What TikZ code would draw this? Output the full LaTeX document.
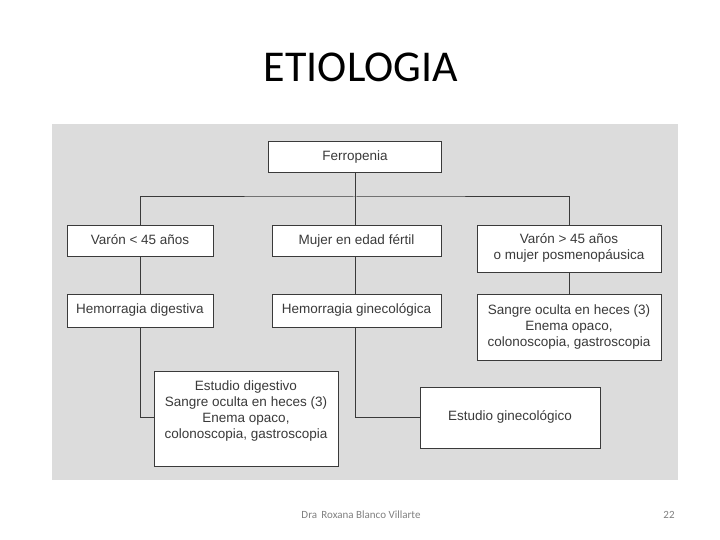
\documentclass[tikz,border=0pt]{standalone}
\usepackage{fontspec}
\setmainfont{Carlito}
\newfontfamily\boxfont{Liberation Sans}
\definecolor{panel}{HTML}{DCDCDC}
\definecolor{ink}{HTML}{3A3A3A}
\begin{document}
\begin{tikzpicture}[x=1pt,y=-1pt,
  bx/.style={draw=ink,fill=white,line width=1pt,text=ink,font=\boxfont\fontsize{13.5}{16}\selectfont,align=center,inner sep=0pt,text height=9.7pt,text depth=2.8pt},
  tx/.style={text=ink,font=\boxfont\fontsize{13.5}{16}\selectfont,align=center,inner sep=0pt},
  ln/.style={draw=ink,line width=1pt}]
\useasboundingbox[fill=white] (0,0) rectangle (720,540);
\fill[panel] (52,124) rectangle (678,480);
\node[font=\fontsize{44}{48}\selectfont] (title) at (361,67) {ETIOLOGIA};
\node[bx,minimum width=173pt,minimum height=31pt] (fe) at (355,157.5) {Ferropenia};
\node[bx,minimum width=146pt,minimum height=30pt] (v1) at (140,241) {Varón < 45 años};
\node[bx,minimum width=169pt,minimum height=30pt] (mu) at (356.5,241) {Mujer en edad fértil};
\node[bx,minimum width=184pt,minimum height=46pt] (v2) at (569,249) {};
\node[tx] (v2t) at (569,247.5) {Varón > 45 años\\o mujer posmenopáusica};
\node[bx,minimum width=146pt,minimum height=33pt] (hd) at (140,310.5) {Hemorragia digestiva};
\node[bx,minimum width=169pt,minimum height=33pt] (hg) at (356.5,310.5) {Hemorragia ginecológica};
\node[bx,minimum width=184pt,minimum height=66pt] (so) at (569,327) {};
\node[tx] (sot) at (569,327) {Sangre oculta en heces (3)\\Enema opaco,\\colonoscopia, gastroscopia};
\node[bx,minimum width=184pt,minimum height=95pt] (ed) at (246,418.5) {};
\node[tx] (edt) at (246,411) {Estudio digestivo\\Sangre oculta en heces (3)\\Enema opaco,\\colonoscopia, gastroscopia};
\node[bx,minimum width=180pt,minimum height=61pt] (eg) at (510,417.5) {Estudio ginecológico};
\coordinate (bar) at (355,197);
\draw[ln] (fe.south) -- (bar);
\draw[ln] (v1.north) |- (bar) -| (v2.north);
\draw[ln] (bar) -- (355,226);
\draw[ln] (v1.south) -- (hd.north);
\draw[ln] (355,256) -- (355,294);
\draw[ln] (v2.south) -- (so.north);
\draw[ln] (hd.south) |- (ed.west |- 0,417);
\draw[ln] (355,327) |- (eg.west);
\node[text=gray,font=\fontsize{11}{12}\selectfont] (ft) at (361,515) {Dra\, Roxana Blanco Villarte};
\node[text=gray,font=\fontsize{11}{12}\selectfont] (pg) at (669,515) {22};
\end{tikzpicture}
\end{document}
